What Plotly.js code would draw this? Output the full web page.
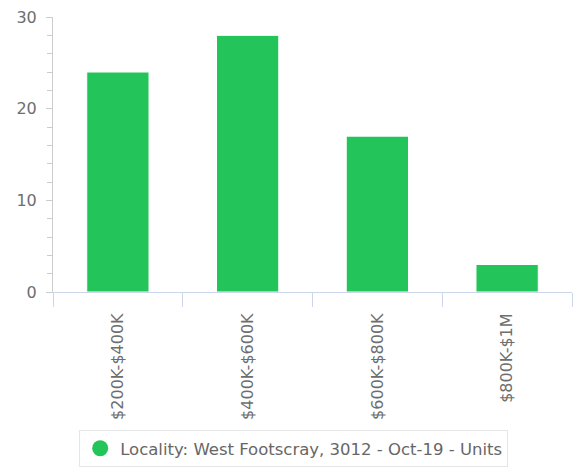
<!DOCTYPE html>
<html>
<head>
<meta charset="utf-8">
<script src="https://cdn.plot.ly/plotly-3.0.1.min.js"></script>
<style>
  html, body { margin: 0; padding: 0; background: #fff; }
  #chart { width: 577px; height: 471px; }
</style>
</head>
<body>
<div id="chart"></div>
<script>
let priceBands = ["$200K-$400K", "$400K-$600K", "$600K-$800K", "$800K-$1M"];
let unitCounts = [24, 28, 17, 3];
let seriesName = "Locality: West Footscray, 3012 - Oct-19 - Units";
let yTicks = [0, 10, 20, 30];

let green = "#23c55a";

var bars = {
    type: "bar",
    x: priceBands,
    y: unitCounts,
    name: seriesName,
    showlegend: false,
    marker: { color: green, line: { color: "#ffffff", width: 1 } },
    hoverinfo: "x+y"
};

// only here so the legend gets a round marker like the original
var legendDot = {
    type: "scatter",
    mode: "markers",
    x: [null],
    y: [null],
    name: seriesName,
    marker: { color: green, size: 16, symbol: "circle" }
};

var layout = {
    width: 577,
    height: 471,
    margin: { l: 53, r: 5, t: 17, b: 179, pad: 0 },
    paper_bgcolor: "#ffffff",
    plot_bgcolor: "#ffffff",
    font: { family: "DejaVu Sans, sans-serif", color: "#666666" },
    bargap: 0.52,
    xaxis: {
        type: "category",
        tickson: "boundaries",
        ticks: "outside",
        ticklen: 14,
        tickcolor: "#ccd6eb",
        showline: true,
        linecolor: "#ccd6eb",
        linewidth: 1,
        showgrid: false,
        tickangle: -90,
        ticklabelstandoff: 14,
        tickfont: { size: 16, color: "#6e6e6e" },
        fixedrange: true
    },
    yaxis: {
        range: [0, 30],
        tickvals: yTicks,
        ticks: "outside",
        ticklen: 6,
        tickcolor: "#cccccc",
        minor: { dtick: 2, ticks: "outside", ticklen: 5, tickcolor: "#cccccc", showgrid: false },
        showline: true,
        linecolor: "#cccccc",
        showgrid: false,
        zeroline: false,
        ticklabelstandoff: 6,
        tickfont: { size: 16, color: "#6e6e6e" },
        fixedrange: true
    },
    showlegend: true,
    legend: {
        orientation: "h",
        xref: "container",
        yref: "container",
        x: 0.509,
        xanchor: "center",
        y: 0.087,
        yanchor: "top",
        bordercolor: "#e6e6e6",
        borderwidth: 1,
        bgcolor: "#ffffff",
        font: { size: 16.5, color: "#666666" }
    }
};

Plotly.newPlot("chart", [bars, legendDot], layout, { displayModeBar: false, staticPlot: true });
</script>
</body>
</html>
